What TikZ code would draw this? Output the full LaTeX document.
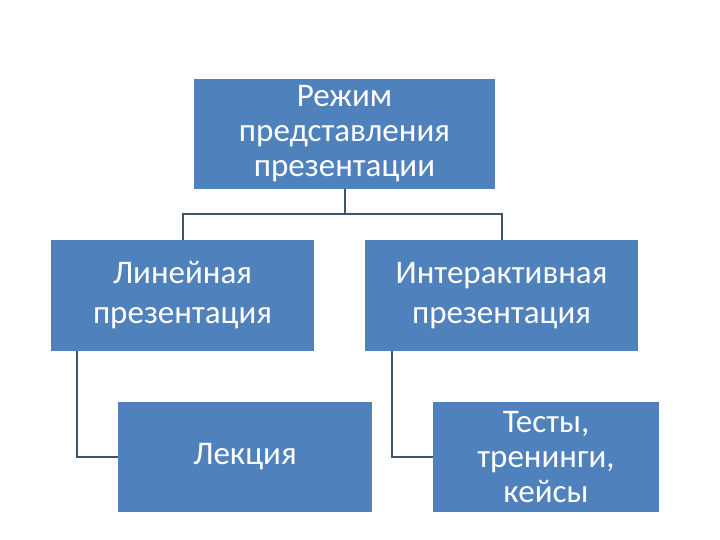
\documentclass[tikz,border=0pt]{standalone}
\usepackage{fontspec}
\setmainfont{Carlito}
\definecolor{boxblue}{HTML}{4F81BD}
\definecolor{linkcol}{HTML}{3F5468}
\begin{document}
\begin{tikzpicture}[x=1pt,y=-1pt,
  box/.style={fill=boxblue, draw=none, text=white, align=center,
    font=\fontsize{33}{35}\selectfont, inner sep=0pt},
  wide/.style={font=\fontsize{33}{40}\selectfont},
  link/.style={draw=linkcol, line width=2pt}]
\useasboundingbox (0,0) rectangle (720,540);
\node[box, minimum width=301pt, minimum height=110pt] (top) at (344.5,134) {Режим\\представления\\презентации};
\node[box, wide, minimum width=263pt, minimum height=111pt] (lin) at (182.5,295.5) {Линейная\\презентация};
\node[box, wide, minimum width=273pt, minimum height=111pt] (int) at (501.5,295.5) {Интерактивная\\презентация};
\node[box, minimum width=254pt, minimum height=110pt] (lek) at (245,457) {Лекция};
\node[box, minimum width=226pt, minimum height=110pt] (tst) at (546,457) {Тесты,\\тренинги,\\кейсы};
\coordinate (mid) at (345,214);
\draw[link] (top.south) -- (top.south |- mid) -| (lin.north);
\draw[link] (top.south |- mid) -| (int.north);
\draw[link] ([xshift=-105.5pt]lin.south) |- (lek.west);
\draw[link] ([xshift=-109.5pt]int.south) |- (tst.west);
\end{tikzpicture}
\end{document}
